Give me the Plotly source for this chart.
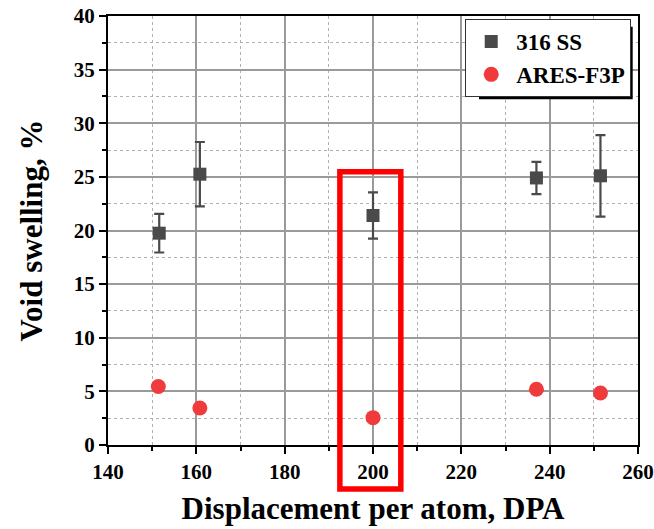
import plotly.graph_objects as go

# Data
dpa_ss = [151.6, 160.8, 200.0, 237.0, 251.5]
swell_ss = [19.75, 25.25, 21.4, 24.9, 25.1]
err_ss = [1.8, 3.0, 2.15, 1.5, 3.8]

dpa_ares = [151.4, 160.8, 200.0, 237.0, 251.5]
swell_ares = [5.45, 3.45, 2.55, 5.2, 4.85]

x_ticks = [140, 160, 180, 200, 220, 240, 260]
y_ticks = [0, 5, 10, 15, 20, 25, 30, 35, 40]

FONT = "Liberation Serif, Times New Roman, serif"
GRAY = "#4a4a4a"
RED = "#ef3b3b"

fig = go.Figure()
fig.add_trace(go.Scatter(
    x=dpa_ss, y=swell_ss, mode="markers", name="316 SS",
    marker=dict(symbol="square", size=13, color=GRAY),
    error_y=dict(type="data", array=err_ss, visible=True, color=GRAY,
                 thickness=2.2, width=5),
))
fig.add_trace(go.Scatter(
    x=dpa_ares, y=swell_ares, mode="markers", name="ARES-F3P",
    marker=dict(symbol="circle", size=15, color=RED),
))

axis_common = dict(
    showline=True, linecolor="black", linewidth=2, mirror=True,
    ticks="outside", ticklen=7, tickwidth=2, tickcolor="black",
    showgrid=True, gridcolor="#9a9a9a", gridwidth=1.5,
    zeroline=False, automargin=False,
    tickfont=dict(family=FONT, size=21, color="black", weight="bold"),
)

fig.update_xaxes(
    range=[140, 260], tickvals=x_ticks,
    title=dict(text="Displacement per atom, DPA", standoff=14,
               font=dict(family=FONT, size=31, color="black", weight="bold")),
    minor=dict(dtick=10, showgrid=True, gridcolor="#b0b0b0", griddash="dot",
               gridwidth=1.2, ticks="outside", ticklen=4, tickwidth=2, tickcolor="black"),
    **axis_common,
)
fig.update_yaxes(
    range=[0, 40], tickvals=y_ticks,
    title=dict(text="Void swelling, %", standoff=22,
               font=dict(family=FONT, size=31, color="black", weight="bold")),
    minor=dict(dtick=2.5, showgrid=True, gridcolor="#b0b0b0", griddash="dot",
               gridwidth=1.2, ticks="outside", ticklen=4, tickwidth=2, tickcolor="black"),
    **axis_common,
)

# legend shadow
fig.add_shape(type="rect", xref="paper", yref="paper",
              x0=0.70, x1=0.990, y0=0.806, y1=0.975,
              fillcolor="black", line=dict(width=0), layer="above")

# red highlight box
fig.add_shape(type="rect", xref="x domain", yref="y domain",
              x0=0.4375, x1=0.5525, y0=-0.1025, y1=0.637,
              line=dict(color="#ff0000", width=5.5), layer="above")

fig.update_layout(
    width=654, height=529,
    margin=dict(l=108, r=16, t=16, b=84),
    paper_bgcolor="white", plot_bgcolor="white",
    showlegend=True,
    legend=dict(x=0.674, y=0.993, xanchor="left", yanchor="top",
                bgcolor="white", bordercolor="#333333", borderwidth=1,
                font=dict(family=FONT, size=23, color="black", weight="bold"),
                itemwidth=40, tracegroupgap=0),
)

fig.write_html("out.html")
